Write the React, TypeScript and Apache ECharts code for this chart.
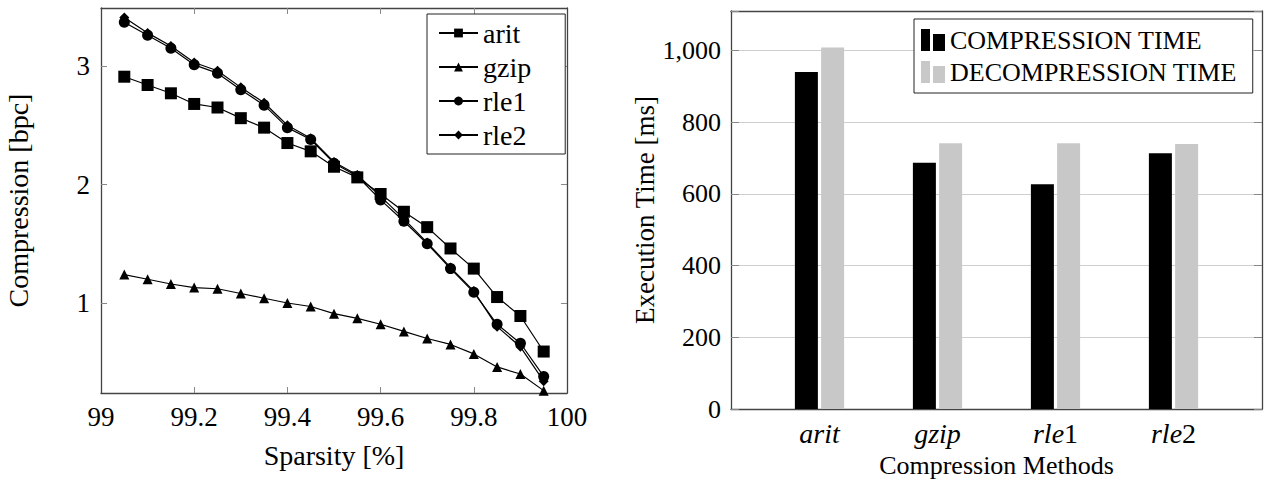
import React, { useEffect, useRef } from "react";
import * as echarts from "echarts";

const sparsity = [99.05, 99.1, 99.15, 99.2, 99.25, 99.3, 99.35, 99.4, 99.45, 99.5, 99.55, 99.6, 99.65, 99.7, 99.75, 99.8, 99.85, 99.9, 99.95];
const arit = [2.91, 2.84, 2.77, 2.68, 2.65, 2.56, 2.48, 2.35, 2.28, 2.15, 2.06, 1.92, 1.77, 1.64, 1.46, 1.29, 1.05, 0.89, 0.59];
const gzip = [1.24, 1.2, 1.16, 1.13, 1.12, 1.08, 1.04, 1.0, 0.97, 0.91, 0.87, 0.82, 0.76, 0.7, 0.65, 0.57, 0.46, 0.4, 0.26];
const rle1 = [3.37, 3.26, 3.15, 3.01, 2.94, 2.8, 2.67, 2.48, 2.38, 2.18, 2.07, 1.87, 1.69, 1.5, 1.29, 1.09, 0.82, 0.66, 0.38];
const rle2 = [3.41, 3.28, 3.17, 3.03, 2.96, 2.82, 2.69, 2.5, 2.39, 2.19, 2.08, 1.9, 1.71, 1.51, 1.3, 1.1, 0.8, 0.63, 0.34];
const xTicks = [99, 99.2, 99.4, 99.6, 99.8, 100];
const yTicks = [1, 2, 3];

const methods = ["arit", "gzip", "rle1", "rle2"];
const compressionTime = [940, 687, 627, 713];
const decompressionTime = [1008, 741, 741, 739];
const timeTicks = [0, 200, 400, 600, 800, 1000];

const FONT = "Liberation Serif";
const FRAME = "#444";
const TICK = "#888";

export default function App() {
  const ref = useRef<HTMLDivElement>(null);
  useEffect(() => {
    document.body.style.margin = "0";
    const chart = echarts.init(ref.current!, null, { renderer: "svg" });
    const pair = (xs: number[], ys: number[]) => xs.map((x, i) => [x, ys[i]]);
    const lineSeries = (name: string, ys: number[], symbol: string, size: number) => ({
      name,
      type: "line",
      xAxisIndex: 0,
      yAxisIndex: 0,
      data: pair(sparsity, ys),
      symbol,
      symbolSize: size,
      color: "#000",
      lineStyle: { color: "#000", width: 1.2 },
      itemStyle: { color: "#000" },
    });
    const axisLine = { show: true, onZero: false, lineStyle: { color: FRAME, width: 1.3 } };
    const option: any = {
      animation: false,
      backgroundColor: "#fff",
      textStyle: { fontFamily: FONT, color: "#000" },
      grid: [
        { left: 101, top: 8, width: 466, height: 385, outerBoundsMode: "none", containLabel: false },
        { left: 731, top: 11, width: 531, height: 398, outerBoundsMode: "none", containLabel: false },
      ],
      legend: [
        {
          data: ["arit", "gzip", "rle1", "rle2"],
          orient: "vertical",
          left: 427,
          top: 14,
          padding: [4, 34, 4, 11],
          itemGap: 4,
          itemWidth: 39,
          itemHeight: 11,
          borderColor: "#222",
          borderWidth: 1,
          backgroundColor: "#fff",
          textStyle: { fontFamily: FONT, fontSize: 28, color: "#000", lineHeight: 30 },
        },
        {
          data: ["COMPRESSION TIME", "DECOMPRESSION TIME"],
          orient: "vertical",
          left: 914,
          top: 19,
          padding: [6, 16, 6, 7],
          itemGap: 2,
          itemWidth: 24,
          itemHeight: 22,
          icon: "path://M0,0h9v22h-9z M12,5h12v17h-12z",
          borderColor: "#222",
          borderWidth: 1,
          backgroundColor: "#fff",
          textStyle: { fontFamily: FONT, fontSize: 26, color: "#000", lineHeight: 30 },
        },
      ],
      xAxis: [
        {
          gridIndex: 0,
          type: "value",
          position: "bottom",
          min: 99,
          max: 100,
          name: "Sparsity [%]",
          nameLocation: "middle",
          nameGap: 48,
          nameTextStyle: { fontFamily: FONT, fontSize: 28, color: "#000" },
          axisLine,
          axisTick: { show: true, inside: true, length: 6, customValues: xTicks.slice(1, -1), lineStyle: { color: TICK } },
          axisLabel: { show: true, customValues: xTicks, fontFamily: FONT, fontSize: 27, color: "#000", margin: 10, formatter: (v: number) => String(Math.round(v * 10) / 10) },
          splitLine: { show: false },
        },
        {
          gridIndex: 0,
          type: "value",
          position: "top",
          min: 99,
          max: 100,
          axisLine,
          axisTick: { show: true, inside: true, length: 6, customValues: xTicks.slice(1, -1), lineStyle: { color: TICK } },
          axisLabel: { show: false },
          splitLine: { show: false },
        },
        {
          gridIndex: 1,
          type: "value",
          position: "bottom",
          min: -0.75,
          max: 3.75,
          name: "Compression Methods",
          nameLocation: "middle",
          nameGap: 31,
          nameTextStyle: { fontFamily: FONT, fontSize: 26, color: "#000", lineHeight: 28 },
          axisLine,
          axisTick: { show: false },
          splitLine: { show: false },
          axisLabel: {
            customValues: methods.map((_, i) => i),
            margin: 10,
            formatter: (v: number) => {
              const m = methods[Math.round(v)] || "";
              return m.replace(/([a-z]+)/, "{i|$1}").replace(/(\d+)$/, "{n|$1}");
            },
            rich: {
              i: { fontFamily: FONT, fontStyle: "italic", fontSize: 28, color: "#000" },
              n: { fontFamily: FONT, fontSize: 28, color: "#000" },
            },
          },
        },
        {
          gridIndex: 1,
          type: "value",
          position: "top",
          min: -0.75,
          max: 3.75,
          axisLine,
          axisTick: { show: false },
          axisLabel: { show: false },
          splitLine: { show: false },
        },
      ],
      yAxis: [
        {
          gridIndex: 0,
          type: "value",
          position: "left",
          min: 0.24,
          max: 3.49,
          name: "Compression [bpc]",
          nameLocation: "middle",
          nameGap: 69,
          nameTextStyle: { fontFamily: FONT, fontSize: 28, color: "#000" },
          axisLine,
          axisTick: { show: true, inside: true, length: 6, customValues: yTicks, lineStyle: { color: TICK } },
          axisLabel: { show: true, customValues: yTicks, fontFamily: FONT, fontSize: 27, color: "#000", margin: 11 },
          splitLine: { show: false },
        },
        {
          gridIndex: 0,
          type: "value",
          position: "right",
          min: 0.24,
          max: 3.49,
          axisLine,
          axisTick: { show: true, inside: true, length: 6, customValues: yTicks, lineStyle: { color: TICK } },
          axisLabel: { show: false },
          splitLine: { show: false },
        },
        {
          gridIndex: 1,
          type: "value",
          position: "left",
          min: 0,
          max: 1110,
          interval: 200,
          name: "Execution Time [ms]",
          nameLocation: "middle",
          nameGap: 54,
          nameTextStyle: { fontFamily: FONT, fontSize: 27, color: "#000" },
          axisLine,
          axisTick: { show: true, inside: true, length: 8, lineStyle: { color: TICK } },
          axisLabel: {
            fontFamily: FONT,
            fontSize: 26,
            color: "#000",
            margin: 10,
            customValues: timeTicks,
            formatter: (v: number) => v.toLocaleString("en-US"),
          },
          splitLine: { show: true, lineStyle: { color: "#cfcfcf", width: 1.2 } },
        },
        {
          gridIndex: 1,
          type: "value",
          position: "right",
          min: 0,
          max: 1110,
          interval: 200,
          axisLine,
          axisTick: { show: true, inside: true, length: 8, lineStyle: { color: TICK } },
          axisLabel: { show: false },
          splitLine: { show: false },
        },
      ],
      series: [
        lineSeries("arit", arit, "rect", 12),
        lineSeries("gzip", gzip, "triangle", 10),
        lineSeries("rle1", rle1, "circle", 11),
        lineSeries("rle2", rle2, "diamond", 10),
        {
          name: "COMPRESSION TIME",
          type: "bar",
          xAxisIndex: 2,
          yAxisIndex: 2,
          data: compressionTime.map((v, i) => [i, v]),
          barWidth: 23,
          barGap: "14%",
          itemStyle: { color: "#000" },
          color: "#000",
        },
        {
          name: "DECOMPRESSION TIME",
          type: "bar",
          xAxisIndex: 2,
          yAxisIndex: 2,
          data: decompressionTime.map((v, i) => [i, v]),
          barWidth: 23,
          barGap: "14%",
          itemStyle: { color: "#c8c8c8" },
          color: "#c8c8c8",
        },
      ],
    };
    chart.setOption(option);
    return () => chart.dispose();
  }, []);
  return <div ref={ref} style={{ width: 1273, height: 480 }} />;
}
